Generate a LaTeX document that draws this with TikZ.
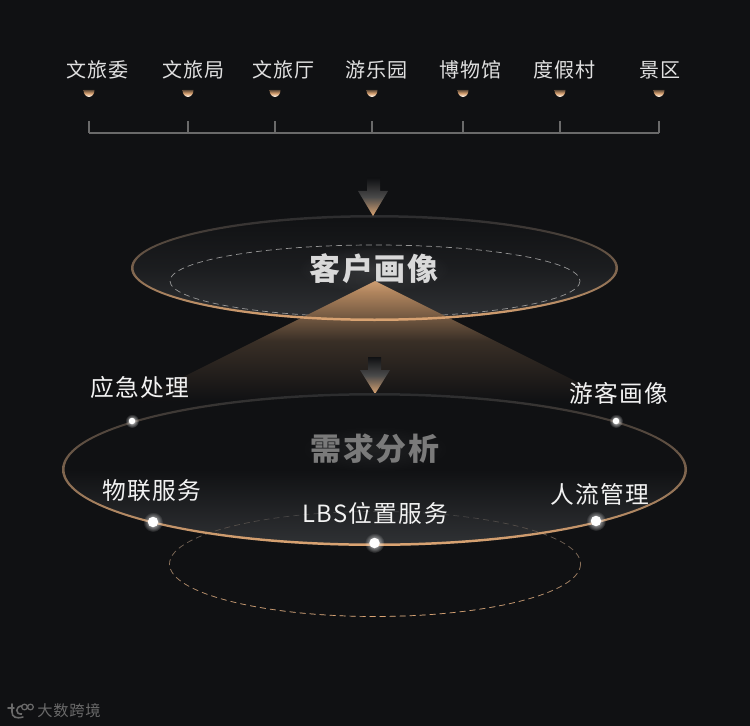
\documentclass[tikz,border=0pt]{standalone}
\usepackage{fontspec}
\usepackage{xcolor}
\setmainfont{Noto Sans CJK SC}[LetterSpace=5]
\usetikzlibrary{fadings}
\definecolor{bgdark}{HTML}{101113}
\definecolor{coppertan}{HTML}{DCA573}
\definecolor{ringgray}{HTML}{2B2C2E}
\definecolor{discgray}{HTML}{303235}
\definecolor{bracketgray}{HTML}{6A6A6A}
\tikzfading[name=dotglow, inner color=transparent!10, outer color=transparent!100]

\begin{document}
\begin{tikzpicture}[
    x=0.02cm, y=-0.02cm,
    toplabel/.style={text=white!88!black, font=\fontsize{11.4}{13}\selectfont, inner sep=0pt},
    sidelabel/.style={text=white!95!black, font=\fontsize{13.5}{15}\selectfont\addfontfeature{LetterSpace=6}, inner sep=0pt},
    title/.style={font=\bfseries\fontsize{17.6}{20}\selectfont, inner sep=0pt},
    bracket/.style={draw=bracketgray, line width=0.65pt},
    smalldot/.style={circle, fill=white, inner sep=0pt, minimum size=0.13cm},
    bigdot/.style={circle, fill=white, inner sep=0pt, minimum size=0.21cm},
    ring/.style={even odd rule, shade, top color=ringgray, bottom color=coppertan, middle color=ringgray!55!coppertan},
    blockarrow/.style={top color=bgdark, bottom color=coppertan, middle color=black!30!bracketgray},
    fine/.style={dashed, dash pattern=on 3.4pt off 2.3pt, line width=0.4pt},
]
    \fill[bgdark] (0,0) rectangle (750,726);
    \useasboundingbox (0,0) rectangle (750,726);

    % Customers
    \foreach \i/\cx/\dx/\lab in {1/97.5/89/文旅委, 2/193.5/188/文旅局, 3/283.5/275/文旅厅, 4/376.5/372/游乐园, 5/470.5/463/博物馆, 6/564.5/560/度假村, 7/660.5/659/景区} {
        \node[toplabel] (cust\i) at (\cx,70) {\lab};
        \shade[top color=bgdark!60!coppertan, bottom color=white, middle color=coppertan] (\dx-5.5,90) arc[start angle=180, end angle=0, x radius=5.5, y radius=7] -- cycle;
        \coordinate (tick\i) at (\dx,121);
        \coordinate (foot\i) at (\dx,133);
        \draw[bracket] (tick\i) -- (foot\i);
    }
    \draw[bracket] (foot1) -- (foot7);

    % Upper disc
    \shade[top color=bgdark, bottom color=discgray, middle color=bgdark!65!discgray] (374.5,268) ellipse (243.5 and 53);
    \draw[bracketgray!70!white, fine] (375,281) ellipse (205 and 36);
    \shade[top color=coppertan!92!black, bottom color=bgdark, middle color=coppertan!20!bgdark] (375,281) -- (615,401) -- (135,401) -- cycle;
    \path[ring] (374.5,268) ellipse (243.5 and 53) (374.5,268) ellipse (241 and 50.5);
    \fill[white, opacity=0.12, path fading=dotglow] (374,269) ellipse (78 and 24);
    \node[title, text=white!85!black] (profile) at (374,269) {客户画像};

    % Arrows
    \shade[blockarrow] (367,178) -- (380,178) -- (380,191) -- (388,191) -- (373,216) -- (358,191) -- (367,191) -- cycle;
    \shade[blockarrow] (368,357) -- (381,357) -- (381,370) -- (390,370) -- (375,394) -- (360,370) -- (368,370) -- cycle;

    % Lower disc
    \shade[top color=bgdark, bottom color=discgray, middle color=bgdark] (374.5,469.5) ellipse (312.5 and 76.5);
    \draw[ringgray!90!white, fine] (375,564) ellipse (205.5 and 52.5);
    \draw[coppertan, fine, path fading=north] (375,564) ellipse (205.5 and 52.5);
    \path[ring] (374.5,469.5) ellipse (312.5 and 76.5) (374.5,469.5) ellipse (310 and 74);
    \fill[white, opacity=0.07, path fading=dotglow] (375,449) ellipse (78 and 24);
    \node[title, text=white!48!black] (demand) at (375,449) {需求分析};

    % Services
    \foreach \name/\px/\py/\sz/\sty/\tx/\ty/\lab in {
        emergency/132/421/7/smalldot/140/387/应急处理,
        visitor/616/421/7/smalldot/619/393/游客画像,
        iot/153/522/10/bigdot/152/491/物联服务,
        lbs/374.5/543/10/bigdot/375/513/LBS位置服务,
        flow/596/521/10/bigdot/600/494/人流管理} {
        \fill[white, path fading=dotglow] (\px,\py) circle (\sz);
        \node[\sty] (dot\name) at (\px,\py) {};
        \node[sidelabel] (lab\name) at (\tx,\ty) {\lab};
    }

    % Watermark
    \draw[bracketgray, line width=0.9pt, line cap=round] (12,704) -- (12,712) .. controls (12,717) and (16,719) .. (23,717);
    \draw[bracketgray, line width=0.9pt, line cap=round] (8,708) -- (14,708);
    \draw[bracketgray, line width=0.9pt] (22,706) .. controls (15,706) and (15,715) .. (22,714);
    \draw[bracketgray, line width=0.7pt] (24.5,707) circle (2.8) (30.5,707) circle (2.8);
    \node[text=bracketgray, font=\fontsize{8.7}{10}\selectfont, inner sep=0pt] (mark) at (69,711) {大数跨境};
\end{tikzpicture}
\end{document}
